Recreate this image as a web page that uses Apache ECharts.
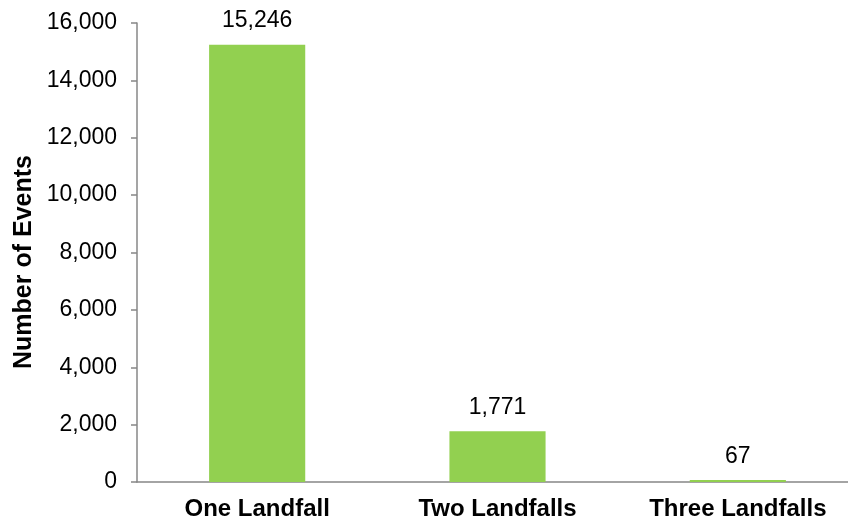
<!DOCTYPE html>
<html>
<head>
<meta charset="utf-8">
<script src="https://cdn.jsdelivr.net/npm/echarts@6/dist/echarts.min.js"></script>
<style>html,body{margin:0;padding:0;background:#fff;}#c{width:848px;height:523px;}</style>
</head>
<body>
<div id="c"></div>
<script>
const categories = ['One Landfall', 'Two Landfalls', 'Three Landfalls'];
const values = [15246, 1771, 67];
const yTicks = [0, 2000, 4000, 6000, 8000, 10000, 12000, 14000, 16000];
const yAxisTitle = 'Number of Events';

const chart = echarts.init(document.getElementById('c'), null, {renderer: 'canvas'});
const font = '"Liberation Sans", Arial, sans-serif';
const fmt = v => v.toLocaleString('en-US');
chart.setOption({
  animation: false,
  grid: {left: 137, top: 23, height: 459, width: 721, containLabel: false, outerBoundsMode: 'none'},
  xAxis: {
    type: 'category',
    data: categories,
    axisLine: {lineStyle: {color: '#878787', width: 1.5}},
    axisTick: {show: false},
    axisLabel: {fontFamily: font, fontSize: 24, fontWeight: 'bold', color: '#000', margin: 15}
  },
  yAxis: {
    type: 'value',
    min: yTicks[0],
    max: yTicks[yTicks.length - 1],
    interval: yTicks[1] - yTicks[0],
    axisLine: {show: true, lineStyle: {color: '#878787', width: 1.5}},
    axisTick: {show: true, length: 6, lineStyle: {color: '#878787', width: 1.5}},
    splitLine: {show: false},
    axisLabel: {fontFamily: font, fontSize: 23, color: '#000', margin: 20, formatter: fmt}
  },
  graphic: [{
    type: 'text',
    x: 24, y: 262,
    rotation: Math.PI / 2,
    style: {text: yAxisTitle, fontFamily: font, fontSize: 25, fontWeight: 'bold', fill: '#000', align: 'center', verticalAlign: 'middle'}
  }],
  series: [{
    type: 'bar',
    data: values,
    barWidth: '40%',
    itemStyle: {color: '#92d050'},
    label: {show: true, position: 'top', distance: 12, fontFamily: font, fontSize: 23, color: '#000', formatter: p => fmt(p.value)}
  }]
});
</script>
</body>
</html>
